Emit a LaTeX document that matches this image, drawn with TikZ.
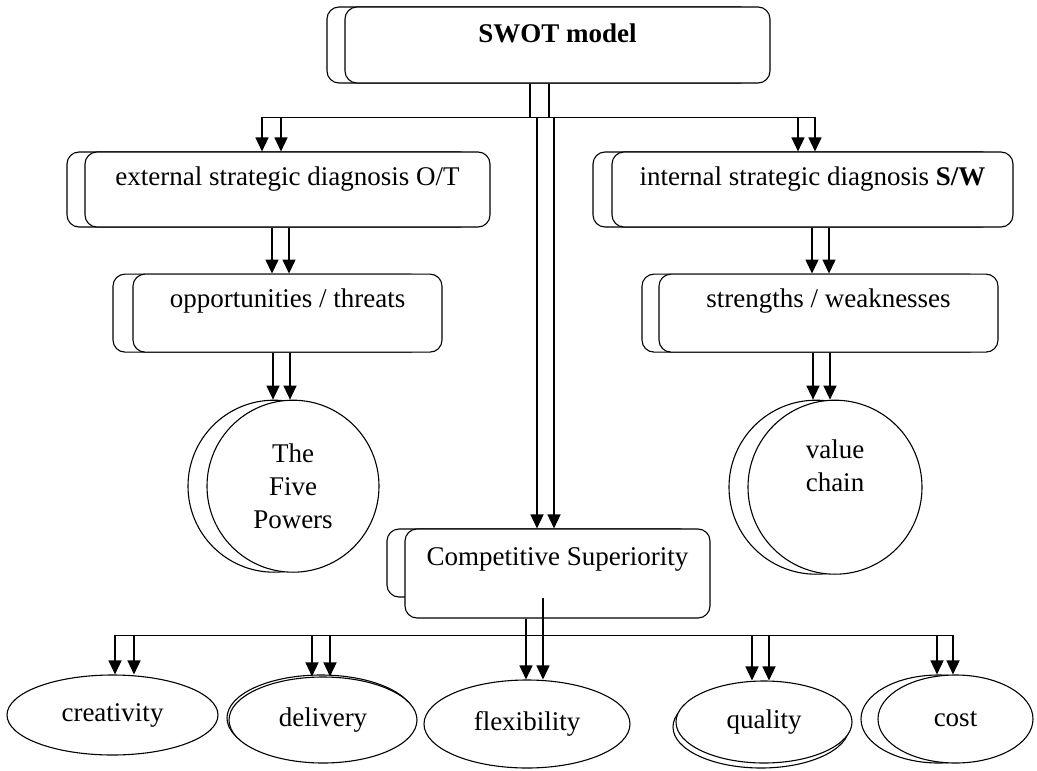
\documentclass[tikz,border=0pt]{standalone}
\usepackage{fontspec}
\setmainfont{Liberation Serif}
\usetikzlibrary{shapes.geometric,arrows.meta,positioning,shadows}
\tikzset{
  block/.style={draw, rectangle, rounded corners=12pt, fill=white, line width=1.1pt, text height=19pt, text depth=30pt},
  bigcircle/.style={draw, circle, fill=white, line width=1.1pt, inner sep=0pt, align=center},
  ovalnode/.style={draw, ellipse, fill=white, line width=1.1pt, inner sep=0pt},
  twin/.style={general shadow={shadow xshift=#1, draw, fill=white, line width=1.1pt}},
  twin/.default=-18pt,
  link/.style={line width=1.4pt},
  arr/.style={link, -{Triangle[length=14pt,width=13pt]}}
}

\begin{document}
\begin{tikzpicture}[x=1pt, y=-1pt, every node/.style={font=\fontsize{27}{33}\selectfont}]
        \useasboundingbox (0,0) rectangle (1037,771);

        % top
        \node [block, twin, minimum width=425pt, minimum height=76pt, text depth=24pt] (swot) at (557.5,45) {
            \textbf{SWOT model}
        };

        % left branch
        \node [block, twin, minimum width=405pt, minimum height=75pt, text depth=28pt] (ext) at (287.5,189.5) {
            external strategic diagnosis O/T
        };
        \node [block, twin=-20pt, minimum width=309pt, minimum height=78pt, text depth=31pt] [below = 46pt of ext] (opp) {
            opportunities / threats
        };
        \node [bigcircle, twin=-19pt, minimum size=172pt] [below = 47pt of opp, xshift=5.5pt] (five) {
            The\\Five\\Powers
        };

        % right branch
        \node [block, twin=-19pt, minimum width=401pt, minimum height=75pt, text depth=28pt] (int) at (812.5,189.5) {
            internal strategic diagnosis \textbf{S/W}
        };
        \node [block, twin=-17pt, minimum width=339pt, minimum height=78pt, text depth=31pt] [below = 46pt of int, xshift=16pt] (str) {
            strengths / weaknesses
        };
        \node [bigcircle, twin=-19pt, minimum size=174pt] [below = 47pt of str, xshift=6.5pt] (value) {
            value\\chain\\\strut
        };

        % middle
        \node [block, minimum width=305pt, minimum height=68pt] (comp-back) at (539.5,563) {};
        \node [block, minimum width=305pt, minimum height=89pt, text depth=36pt] (comp) at (557.5,573.5) {
            Competitive Superiority
        };

        % bottom row
        \node [ovalnode, minimum width=211pt, minimum height=80pt] (crea) at (112.5,715) {creativity};
        \node [ovalnode, general shadow={shadow xshift=-2pt, shadow yshift=2pt, draw, fill=white, line width=1.1pt}, minimum width=188pt, minimum height=86pt] (deli) at (323,720) {delivery};
        \node [ovalnode, minimum width=206pt, minimum height=88pt] (flex) at (527,724) {flexibility};
        \node [ovalnode, general shadow={shadow xshift=-3pt, shadow yshift=-5pt, draw, fill=white, line width=1.1pt}, minimum width=176pt, minimum height=82pt] (qual) at (764,722) {quality};
        \node [ovalnode, twin=-17pt, minimum width=155pt, minimum height=88pt] (cost) at (955.5,719) {cost};

        % connectors from the top
        \draw[arr] ([xshift=-27.5pt]swot.south) -- ++(0,34) -| ([xshift=-25.5pt]ext.north);
        \draw[arr] ([xshift=-8.5pt]swot.south) -- ++(0,34) -| ([xshift=-6.5pt]ext.north);
        \draw[arr] ([xshift=-27.5pt]swot.south) -- ++(0,34) -| ([xshift=-14.5pt]int.north);
        \draw[arr] ([xshift=-8.5pt]swot.south) -- ++(0,34) -| ([xshift=2.5pt]int.north);
        \draw[arr] ([xshift=-20.5pt,yshift=-34pt]swot.south) -- ([xshift=-20.5pt]comp.north);
        \draw[arr] ([xshift=-3.5pt,yshift=-34pt]swot.south) -- ([xshift=-3.5pt]comp.north);

        \draw[arr] ([xshift=-15.5pt]ext.south) -- ([xshift=-15.5pt]opp.north);
        \draw[arr] ([xshift=1.5pt]ext.south) -- ([xshift=1.5pt]opp.north);
        \draw[arr] ([xshift=-14.5pt]opp.south) -- ([xshift=-20pt]five.north);
        \draw[arr] ([xshift=2.5pt]opp.south) -- ([xshift=-3pt]five.north);

        \draw[arr] ([xshift=-0.5pt]int.south) -- ([xshift=-16.5pt]str.north);
        \draw[arr] ([xshift=16.5pt]int.south) -- ([xshift=0.5pt]str.north);
        \draw[arr] ([xshift=-15.5pt]str.south) -- ([xshift=-22pt]value.north);
        \draw[arr] ([xshift=1.5pt]str.south) -- ([xshift=-5pt]value.north);

        % connectors to the bottom row
        \draw[arr] ([xshift=-31.5pt]comp.south) -- ++(0,17) -| ([xshift=2.5pt]crea.north);
        \draw[arr] ([xshift=-31.5pt]comp.south) -- ++(0,17) -| ([xshift=21.5pt]crea.north);
        \draw[arr] ([xshift=-31.5pt]comp.south) -- ++(0,17) -| ([xshift=-11pt]deli.north);
        \draw[arr] ([xshift=-31.5pt]comp.south) -- ++(0,17) -| ([xshift=7pt]deli.north);
        \draw[arr] ([xshift=-31.5pt]comp.south) -- ++(0,17) -| ([xshift=-1pt]flex.north);
        \draw[arr] ([xshift=-14.5pt,yshift=21pt]comp.south) -- ([xshift=16pt]flex.north);
        \draw[arr] ([xshift=-31.5pt]comp.south) -- ++(0,17) -| ([xshift=-12pt]qual.north);
        \draw[arr] ([xshift=-31.5pt]comp.south) -- ++(0,17) -| ([xshift=5pt]qual.north);
        \draw[arr] ([xshift=-31.5pt]comp.south) -- ++(0,17) -| ([xshift=-18.5pt]cost.north);
        \draw[arr] ([xshift=-31.5pt]comp.south) -- ++(0,17) -| ([xshift=-2.5pt]cost.north);
    \end{tikzpicture}
\end{document}
